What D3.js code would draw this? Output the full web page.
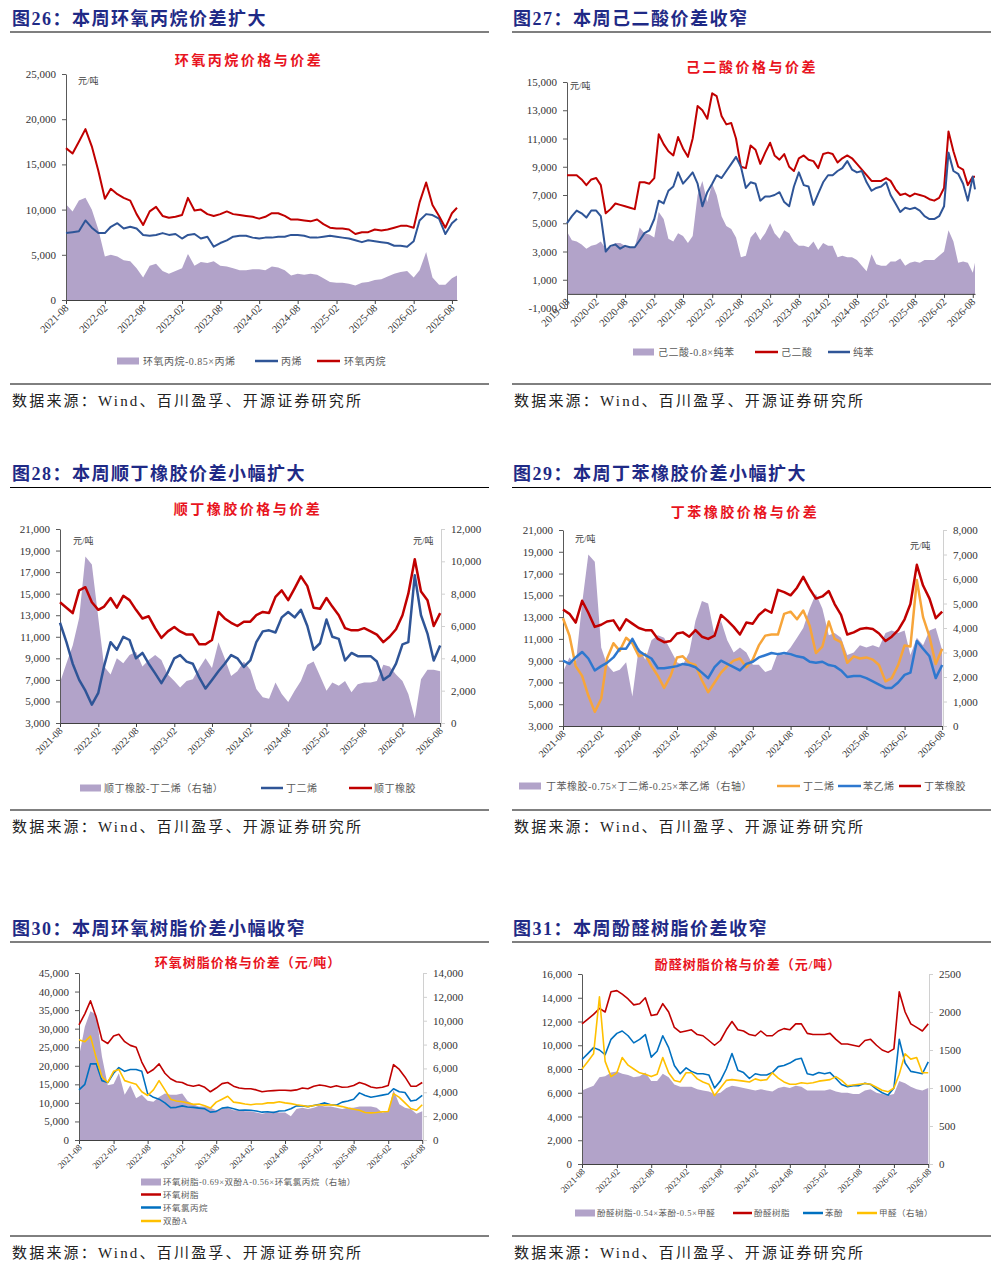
<!DOCTYPE html>
<html>
<head>
<meta charset="utf-8">
<script src="https://cdn.jsdelivr.net/npm/d3@7"></script>
<style>
body { margin: 0; background: #fff; }
text { font-family: "Liberation Serif", "Noto Sans CJK SC", serif; }
.head { font-size: 18px; font-weight: bold; fill: #1f2a86; letter-spacing: 1.5px; }
.src { font-size: 15px; fill: #222; letter-spacing: 2.2px; }
.ctitle { font-weight: bold; fill: #e8141e; text-anchor: middle; }
.unit { font-size: 9px; fill: #404040; }
.leg { fill: #595959; }
.tick text { fill: #333; }
</style>
</head>
<body>
<div id="chart"></div>
<script>
const width = 1000
const height = 1268

// ---------- 图26 环氧丙烷 (2021-08 ~ 2026-08, 月度) ----------
const poSpread = [10600,9800,11000,11300,10000,
  7800,4800,5000,4800,4400,4300,3500,2500,3800,4000,3200,2900,
  3200,3500,5100,3800,4200,4100,4300,3800,3700,3500,3300,3300,
  3400,3400,3300,3700,3600,3300,2700,2900,2800,2900,2800,2400,
  2000,1900,1900,1800,1600,1900,2000,2200,2300,2600,2900,3100,
  3200,2500,3300,5300,2500,1700,1700,2400, 2700]
const propylene = [7400,7500,7600,8800,8000,
  7400,7400,8100,8500,7900,8100,7900,7200,7100,7200,7400,7200,
  7300,6800,7200,7300,6800,7000,5900,6300,6600,7000,7100,7100,
  6900,6800,6900,6900,7000,7000,7200,7200,7100,6900,6900,7000,
  7100,7000,6900,6800,6600,6400,6600,6500,6400,6300,6000,6000,
  5900,6500,8800,9500,9400,9000,7300,8500, 9000]
const propyleneOxide = [16800,16200,17500,18900,17000,
  14300,11200,12300,11700,11300,11000,9500,8300,9800,10300,9300,9100,
  9200,9400,11300,9900,10000,9500,9300,9500,9800,9500,9400,9300,
  9200,9000,9200,9600,9600,9300,8900,8900,8800,8700,8900,8400,
  8000,7900,7900,7800,7300,7500,7500,7800,7700,7800,8000,8200,
  8200,8000,10800,13000,10500,9300,8000,9600, 10200]

// ---------- 图27 己二酸 (2019-08 ~ 2026-08) ----------
const adipicSpread = [4400,3800,3700,3500,3200,
  3400,3500,3700,3200,3300,3600,3600,3400,3300,3300,4700,4300,
  4200,4000,5800,5300,3900,3700,4300,4100,3600,4100,7000,8000,
  6500,7800,7000,5500,4800,4600,4000,2600,2700,4000,4400,3800,
  4300,5000,4300,3900,4500,4300,3700,3400,3400,3300,3700,3100,
  3600,3400,3400,2600,2700,2600,2600,2400,2000,1600,2800,2100,
  2000,2000,2300,2300,2500,2000,2200,2300,2200,2400,2400,2400,
  2700,3000,4500,3700,2200,2300,2200,1500, 2200]
const adipicAcid = [8400,8400,8400,8100,7700,
  8100,8200,7700,5700,6000,6400,6300,6200,6100,6000,7900,7900,
  7800,8200,11300,10600,10100,9800,11100,10300,9700,11000,13300,13000,
  12400,14200,14000,12600,12000,12100,11000,9000,8900,10500,10200,9200,
  10000,10700,9800,9500,9900,9000,8700,9600,9800,9500,9400,8900,
  9900,10000,9900,9300,9600,9800,9600,9200,8800,8400,8000,8000,
  8000,8200,8000,7400,7000,7100,6900,7100,7000,6900,6700,6600,
  6800,7500,11500,10100,9000,8800,7700,8300, 8300]
const benzene = [5000,5500,5900,5700,5400,
  5900,5900,5500,3000,3400,3500,3200,3400,3300,3300,3800,4300,
  4500,5300,6600,6400,7300,7600,8600,7800,8200,8600,7800,6200,
  7200,7800,8400,8200,8700,9200,9700,9000,7500,7900,7800,6600,
  6900,6900,7000,7200,6500,6200,7600,8600,7700,7600,6300,7100,
  7900,8400,8400,8700,8900,9400,8800,8600,8700,7900,7300,7500,
  7600,7900,7000,6400,5800,6100,6000,6100,5900,5500,5300,5300,
  5500,6200,10000,8700,8500,7800,6600,8300, 7400]

// ---------- 图28 顺丁橡胶 (2021-08 ~ 2026-08) ----------
const brSpread = [2500,3700,4800,6500,10300,
  9800,6500,3500,3000,4000,3700,4200,4400,3500,3900,4200,3900,
  3000,2600,2200,2600,2700,3400,4000,3400,5000,4000,2900,3200,
  3800,3300,2100,1600,1500,2500,1800,1300,2000,2600,3600,3800,
  2900,2000,2500,2300,2600,1900,2400,2500,2500,2600,3600,3500,
  3000,2600,1800,300,2700,3300,3300,3200]
const butadiene28 = [12300,10500,8500,7000,6000,
  4700,5800,8300,10500,9800,11000,10700,9000,9500,8500,7600,6700,
  7700,9000,9300,8700,8500,7200,6200,7000,7800,8500,9300,9000,
  8200,8800,10500,11500,11600,11400,12800,13300,12800,13500,12000,9800,
  10400,12600,11000,10800,8800,9500,9200,9200,9200,8700,7000,7400,
  8500,10300,10500,16700,13000,11300,8800,10200]
const butadieneRubber = [14200,13700,13200,15300,15600,
  14200,13500,13800,14600,13700,14800,14400,13500,12700,12900,11800,10900,
  11500,11900,11500,11200,11200,10300,10300,10700,13300,12700,12300,12000,
  12400,12400,13000,13300,13200,14700,15300,14400,15500,16600,15700,13700,
  13600,14600,13800,13000,11800,11600,11600,11800,11500,11200,10500,11000,
  11700,13000,15000,18200,15200,14400,12000,13200]

// ---------- 图29 丁苯橡胶 (2021-08 ~ 2026-08) ----------
const sbrSpread = [2200,2800,2500,5000,7000,
  6700,3200,2500,2200,2300,2600,1200,3200,2700,3500,3700,3600,
  3100,2600,2500,3000,4300,5100,5000,3700,4300,3500,3000,3200,
  3000,2500,2500,2200,2300,3000,2900,3200,3600,4000,4800,5400,
  4800,3700,3800,3600,2900,3000,3300,3200,3300,3200,3800,3900,
  3800,3900,2900,3600,3300,3900,4000,3100]
const butadiene29 = [12900,11300,8500,7600,5800,
  4300,5500,9200,10600,9900,11100,10600,9400,9600,8500,7600,6500,
  7600,9300,9400,8800,8600,7200,6100,7000,7900,8500,9000,9200,
  8400,9100,10400,11300,11400,11400,13300,13500,12800,13600,12200,9700,
  10300,12600,11000,10700,8800,9400,9200,9300,9100,8600,7100,7400,
  8600,10400,10300,16400,13000,11200,8700,10100]
const styrene = [9000,8700,9300,9800,9200,
  8100,8500,8800,9300,10100,10100,11000,9900,9500,9200,8300,8300,
  8400,8500,8700,8600,8400,7900,7400,8400,9000,8700,8400,8100,
  8700,8900,9300,9500,9700,9600,9700,9600,9400,9300,8900,8800,
  8900,8600,8500,8100,7500,7600,7600,7400,7100,6800,6500,6500,
  7000,7700,7900,10800,10100,9400,7400,8600]
const sbr = [13700,13300,12500,14500,13400,
  12100,12300,12600,12700,11800,12800,12400,12000,11800,11800,11000,10700,
  10800,11500,11600,11200,11800,11200,11000,11300,13200,12700,12100,11400,
  12500,12400,13200,13700,13400,15500,15300,15000,15700,16700,15600,14700,
  14900,15400,14200,13200,11400,11600,11900,12000,11900,11500,10800,11200,
  11800,12800,14200,17800,15900,14700,12900,13500]

// ---------- 图30 环氧树脂 (2021-08 ~ 2026-08) ----------
const epoxySpread = [7000,9500,10800,10500,7000,
  4600,4700,5600,3800,4600,3500,3800,3300,3200,3600,3900,3800,
  3800,3900,3300,3000,2800,2800,2700,2500,2600,2700,2500,2500,
  2400,2400,2300,2200,2300,2400,2300,2300,2000,2600,2700,2600,
  2700,2900,2800,2800,2700,2600,2700,2700,2800,2800,2800,2700,
  2300,2400,4200,3000,2700,2600,2200,2400]
const epoxyResin = [31000,34000,37500,33000,27000,
  26000,28000,28500,26500,25500,25000,21000,18000,19000,20500,18000,16500,
  15700,15500,14800,14500,14800,14200,13000,14000,15200,15500,14500,14000,
  13800,13800,13500,13000,13200,13300,13400,13400,13300,13500,14000,13800,
  14500,14800,14600,14200,14600,14200,14300,14700,15500,15000,14300,14000,
  14200,14700,20300,19000,17000,14500,14500,15500]
const epichlorohydrin = [13500,15000,20500,20500,16000,
  15500,18000,19500,18500,19000,19000,18500,12500,11500,11000,10000,8700,
  8800,9200,8900,8800,8600,8400,7500,7700,8600,8800,8400,8000,
  8100,8000,7800,7500,7600,7400,7800,7900,8400,9200,9200,9000,
  9300,9600,10000,9500,9400,10200,10500,11000,12700,12000,11500,11800,
  12100,12400,13800,13000,12800,10500,10800,12000]
const bisphenolA = [27000,26500,28000,22000,17000,
  15500,18500,19000,16000,15500,15000,13000,12000,13500,16000,13500,11000,
  10500,10300,10000,9600,9700,9200,8600,10200,11000,11800,10200,10000,
  9700,9500,9700,9700,10000,10000,10300,10000,9800,9500,9300,9000,
  9300,9500,9400,9500,9300,9000,8600,8300,8000,7400,7300,7400,
  7600,7700,12500,11500,10000,8500,8000,9500]

// ---------- 图31 酚醛树脂 (2021-08 ~ 2026-08) ----------
const pfSpread = [6200,6400,6600,7300,7400,
  7700,7800,7600,7500,7300,7400,7700,7000,7000,7600,7300,6700,
  6500,6500,6500,6300,6200,6100,5900,6000,6400,6600,6500,6400,
  6300,6200,6300,6200,6100,6400,6500,6400,6600,6500,6200,6200,
  6200,6200,6300,6100,6000,6000,5900,5900,6200,6300,6000,5900,
  5800,5900,7000,6800,6500,6300,6200,6400]
const phenolicResin = [11800,12200,12600,13100,12800,
  14500,14600,14300,13900,13400,13500,14000,12500,12600,13500,12800,11500,
  11100,11200,11300,10900,10800,10400,10000,10400,11300,12000,11300,11200,
  10900,10800,11200,10800,10800,11200,11400,11300,11800,11800,11000,10900,
  10900,10900,11000,10500,10100,10100,10000,9900,10400,10500,10000,9600,
  9400,9700,14500,12800,11800,11500,11200,11800]
const phenol = [8800,9300,9800,9600,9200,
  10500,11000,11200,10800,10200,10500,10900,9000,9500,10800,9800,8300,
  7600,8100,7800,7600,7600,7500,6400,7000,8000,9300,7900,7700,
  7200,7600,7500,7500,7700,8200,8300,8500,8800,8900,7600,7500,
  7700,7600,7700,7200,6700,6500,6600,6600,6800,6700,6300,6000,
  5800,6400,10500,8500,7800,7700,7600,8600]
const formaldehyde = [1250,1350,1450,2200,1350,
  1150,1200,1400,1300,1250,1200,1180,1150,1180,1400,1200,1100,
  1080,1200,1200,1120,1080,1050,900,1000,1100,1110,1100,1090,
  1080,1120,1100,1110,1200,1130,1080,1050,1050,1070,1060,1070,
  1090,1100,1110,1150,1100,1030,1040,1050,1060,1050,1010,970,
  950,1000,1180,1450,1380,1400,1200,1200]

const C = {
    purple: "#b2a3c9",
    red: "#c00000",
    navyBlue: "#2f5597",
    blue: "#0070c0",
    blue29: "#2e78cf",
    orange: "#f7a53a",
    yellow: "#ffc000"
}

const svg = d3.select("div#chart")
    .append("svg")
    .attr("width", width)
    .attr("height", height)

// 月度日期，最后一个点可以落在月中
function monthDates(start, n, last) {
    const d = d3.range(n).map(i => new Date(start[0], start[1] - 1 + i, 1))
    if (last) d[n - 1] = last
    return d
}

const halfYears = (y, m, n) => d3.range(n).map(i => new Date(y, m - 1 + 6 * i, 1))
const commaFmt = d => d3.format(",")(d).replace("−", "-")

const panels = [
    {
        head: ["图26：本周环氧丙烷价差扩大", 12, 25], rule: [10, 489, 32], src: [384, 406],
        title: ["环氧丙烷价格与价差", 249, 65, 14, 2.5],
        xDomain: [new Date(2021, 7, 1), new Date(2026, 7, 25)], xRange: [66, 457],
        start: [2021, 8], last: new Date(2026, 7, 25), xTicks: halfYears(2021, 8, 11), xFont: 10.5,
        yL: [0, 25000], yLTicks: d3.range(0, 25001, 5000), yRange: [300, 74], xAxisAt: 0,
        units: [[78, 84]],
        series: [
            { type: "area", values: poSpread, axis: "L" },
            { type: "line", values: propylene, axis: "L", color: C.navyBlue, w: 2 },
            { type: "line", values: propyleneOxide, axis: "L", color: C.red, w: 2 }
        ],
        legendSize: 10,
        legend: [
            { kind: "rect", x1: 117, x2: 139, y: 361, color: C.purple, label: "环氧丙烷-0.85×丙烯", tx: 143 },
            { kind: "line", x1: 255, x2: 278, y: 361, color: C.navyBlue, label: "丙烯", tx: 281 },
            { kind: "line", x1: 317, x2: 340, y: 361, color: C.red, label: "环氧丙烷", tx: 344 }
        ]
    },
    {
        head: ["图27：本周己二酸价差收窄", 513, 25], rule: [512, 991, 32], src: [384, 406],
        title: ["己二酸价格与价差", 752, 72, 14, 2.5],
        xDomain: [new Date(2019, 7, 1), new Date(2026, 7, 15)], xRange: [567, 975],
        start: [2019, 8], last: new Date(2026, 7, 15), xTicks: halfYears(2019, 8, 15), xFont: 10.5,
        yL: [-1000, 15000], yLTicks: d3.range(-1000, 15001, 2000), yRange: [308, 82], xAxisAt: 0,
        units: [[570, 89]],
        series: [
            { type: "area", values: adipicSpread, axis: "L" },
            { type: "line", values: adipicAcid, axis: "L", color: C.red, w: 2 },
            { type: "line", values: benzene, axis: "L", color: C.navyBlue, w: 2 }
        ],
        legendSize: 10,
        legend: [
            { kind: "rect", x1: 633, x2: 654, y: 352, color: C.purple, label: "己二酸-0.8×纯苯", tx: 658 },
            { kind: "line", x1: 755, x2: 778, y: 352, color: C.red, label: "己二酸", tx: 781 },
            { kind: "line", x1: 828, x2: 850, y: 352, color: C.navyBlue, label: "纯苯", tx: 853 }
        ]
    },
    {
        head: ["图28：本周顺丁橡胶价差小幅扩大", 12, 480], rule: [10, 489, 487.5], src: [810, 832],
        title: ["顺丁橡胶价格与价差", 248, 514, 14, 2.5],
        xDomain: [new Date(2021, 7, 1), new Date(2026, 7, 5)], xRange: [60, 441],
        start: [2021, 8], xTicks: halfYears(2021, 8, 11), xFont: 10,
        yL: [3000, 21000], yLTicks: d3.range(3000, 21001, 2000), yRange: [723, 529], xAxisAt: 3000,
        yR: [0, 12000], yRTicks: d3.range(0, 12001, 2000), yRFmt: commaFmt,
        units: [[73, 544], [413, 544]],
        series: [
            { type: "area", values: brSpread, axis: "R" },
            { type: "line", values: butadiene28, axis: "L", color: C.navyBlue, w: 2.5 },
            { type: "line", values: butadieneRubber, axis: "L", color: C.red, w: 2.5 }
        ],
        legendSize: 10,
        legend: [
            { kind: "rect", x1: 80, x2: 101, y: 788, color: C.purple, label: "顺丁橡胶-丁二烯（右轴）", tx: 104 },
            { kind: "line", x1: 261, x2: 283, y: 788, color: C.navyBlue, label: "丁二烯", tx: 286 },
            { kind: "line", x1: 349, x2: 372, y: 788, color: C.red, label: "顺丁橡胶", tx: 374 }
        ]
    },
    {
        head: ["图29：本周丁苯橡胶价差小幅扩大", 513, 480], rule: [512, 991, 487.5], src: [810, 832],
        title: ["丁苯橡胶价格与价差", 745, 517, 14, 2.5],
        xDomain: [new Date(2021, 7, 1), new Date(2026, 7, 5)], xRange: [563, 943],
        start: [2021, 8], xTicks: halfYears(2021, 8, 11), xFont: 10,
        yL: [3000, 21000], yLTicks: d3.range(3000, 21001, 2000), yRange: [726, 530], xAxisAt: 3000,
        yR: [0, 8000], yRTicks: d3.range(0, 8001, 1000), yRFmt: commaFmt,
        units: [[575, 542], [910, 549]],
        series: [
            { type: "area", values: sbrSpread, axis: "R" },
            { type: "line", values: butadiene29, axis: "L", color: C.orange, w: 2.5 },
            { type: "line", values: styrene, axis: "L", color: C.blue29, w: 2.5 },
            { type: "line", values: sbr, axis: "L", color: C.red, w: 2.5 }
        ],
        legendSize: 10,
        legend: [
            { kind: "rect", x1: 519, x2: 541, y: 786, color: C.purple, label: "丁苯橡胶-0.75×丁二烯-0.25×苯乙烯（右轴）", tx: 546 },
            { kind: "line", x1: 777, x2: 800, y: 786, color: C.orange, label: "丁二烯", tx: 803 },
            { kind: "line", x1: 838, x2: 861, y: 786, color: C.blue29, label: "苯乙烯", tx: 863 },
            { kind: "line", x1: 899, x2: 921, y: 786, color: C.red, label: "丁苯橡胶", tx: 924 }
        ]
    },
    {
        head: ["图30：本周环氧树脂价差小幅收窄", 12, 935], rule: [10, 489, 942], src: [1236, 1258],
        title: ["环氧树脂价格与价差（元/吨）", 248, 967, 13, 1],
        xDomain: [new Date(2021, 7, 1), new Date(2026, 7, 5)], xRange: [79, 423],
        start: [2021, 8], xTicks: halfYears(2021, 8, 11), xFont: 9,
        yL: [0, 45000], yLTicks: d3.range(0, 45001, 5000), yRange: [1140, 973], xAxisAt: 0,
        yR: [0, 14000], yRTicks: d3.range(0, 14001, 2000), yRFmt: commaFmt,
        units: [],
        series: [
            { type: "area", values: epoxySpread, axis: "R" },
            { type: "line", values: epoxyResin, axis: "L", color: C.red, w: 1.6 },
            { type: "line", values: epichlorohydrin, axis: "L", color: C.blue, w: 1.6 },
            { type: "line", values: bisphenolA, axis: "L", color: C.yellow, w: 1.6 }
        ],
        legendSize: 8.5,
        legend: [
            { kind: "rect", x1: 141, x2: 161, y: 1182, color: C.purple, label: "环氧树脂-0.69×双酚A-0.56×环氧氯丙烷（右轴）", tx: 163 },
            { kind: "line", x1: 141, x2: 161, y: 1194.5, color: C.red, label: "环氧树脂", tx: 163 },
            { kind: "line", x1: 141, x2: 161, y: 1207.5, color: C.blue, label: "环氧氯丙烷", tx: 163 },
            { kind: "line", x1: 141, x2: 161, y: 1221, color: C.yellow, label: "双酚A", tx: 163 }
        ]
    },
    {
        head: ["图31：本周酚醛树脂价差收窄", 513, 935], rule: [512, 991, 942], src: [1236, 1258],
        title: ["酚醛树脂价格与价差（元/吨）", 748, 969, 13, 1],
        xDomain: [new Date(2021, 7, 1), new Date(2026, 7, 5)], xRange: [582, 929],
        start: [2021, 8], xTicks: halfYears(2021, 8, 11), xFont: 9,
        yL: [0, 16000], yLTicks: d3.range(0, 16001, 2000), yRange: [1164, 974], xAxisAt: 0,
        yR: [0, 2500], yRTicks: d3.range(0, 2501, 500), yRFmt: d3.format("d"),
        units: [],
        series: [
            { type: "area", values: pfSpread, axis: "L" },
            { type: "line", values: phenolicResin, axis: "L", color: C.red, w: 1.6 },
            { type: "line", values: phenol, axis: "L", color: C.blue, w: 1.6 },
            { type: "line", values: formaldehyde, axis: "R", color: C.yellow, w: 1.6 }
        ],
        legendSize: 8.5,
        legend: [
            { kind: "rect", x1: 575, x2: 595, y: 1213, color: C.purple, label: "酚醛树脂-0.54×苯酚-0.5×甲醛", tx: 597 },
            { kind: "line", x1: 733, x2: 752, y: 1213, color: C.red, label: "酚醛树脂", tx: 754 },
            { kind: "line", x1: 803, x2: 823, y: 1213, color: C.blue, label: "苯酚", tx: 825 },
            { kind: "line", x1: 857, x2: 877, y: 1213, color: C.yellow, label: "甲醛（右轴）", tx: 879 }
        ]
    }
]

panels.forEach(drawPanel)

function drawPanel(p) {
    const g = svg.append("g")

    // 图号标题 + 上下横线 + 数据来源
    g.append("text").attr("class", "head").attr("x", p.head[1]).attr("y", p.head[2]).text(p.head[0])
    g.append("line").attr("x1", p.rule[0]).attr("x2", p.rule[1]).attr("y1", p.rule[2]).attr("y2", p.rule[2])
        .attr("stroke", "#000").attr("stroke-width", 1.2)
    g.append("line").attr("x1", p.rule[0]).attr("x2", p.rule[1]).attr("y1", p.src[0]).attr("y2", p.src[0])
        .attr("stroke", "#000").attr("stroke-width", 1)
    g.append("text").attr("class", "src").attr("x", p.rule[0] + 2).attr("y", p.src[1])
        .text("数据来源：Wind、百川盈孚、开源证券研究所")

    // 图表标题
    g.append("text").attr("class", "ctitle")
        .attr("x", p.title[1]).attr("y", p.title[2])
        .style("font-size", p.title[3] + "px").style("letter-spacing", p.title[4] + "px")
        .text(p.title[0])

    const x = d3.scaleTime().domain(p.xDomain).range(p.xRange)
    const yL = d3.scaleLinear().domain(p.yL).range(p.yRange)
    const yR = p.yR ? d3.scaleLinear().domain(p.yR).range(p.yRange) : null
    const dates = monthDates(p.start, p.series[0].values.length, p.last)

    // 面积先画
    p.series.filter(s => s.type === "area").forEach(s => {
        const y = s.axis === "R" ? yR : yL
        g.append("path")
            .datum(s.values.map((v, i) => [dates[i], v]))
            .attr("fill", C.purple)
            .attr("d", d3.area().x(d => x(d[0])).y0(y(0)).y1(d => y(d[1])))
    })

    // 坐标轴
    const xAxis = g.append("g")
        .attr("transform", `translate(0,${yL(p.xAxisAt)})`)
        .call(d3.axisBottom(x).tickValues(p.xTicks).tickFormat(d3.timeFormat("%Y-%m")).tickSize(4).tickSizeOuter(0))
    xAxis.select(".domain").attr("stroke", "#404040")
    xAxis.selectAll(".tick line").attr("stroke", "#404040")
    xAxis.selectAll("text")
        .style("font-size", p.xFont + "px")
        .style("text-anchor", "end")
        .attr("dx", "-0.4em")
        .attr("dy", "0.1em")
        .attr("transform", "rotate(-45)")

    const left = g.append("g")
        .attr("transform", `translate(${p.xRange[0]},0)`)
        .call(d3.axisLeft(yL).tickValues(p.yLTicks).tickFormat(commaFmt).tickSize(4).tickPadding(6).tickSizeOuter(0))
    left.select(".domain").attr("stroke", "#595959")
    left.selectAll(".tick line").attr("stroke", "#595959")
    left.selectAll("text").style("font-size", "11px")

    if (yR) {
        const right = g.append("g")
            .attr("transform", `translate(${p.xRange[1]},0)`)
            .call(d3.axisRight(yR).tickValues(p.yRTicks).tickFormat(p.yRFmt).tickSize(4).tickPadding(6).tickSizeOuter(0))
        right.select(".domain").attr("stroke", "#d0d0d0")
        right.selectAll(".tick line").attr("stroke", "#d0d0d0")
        right.selectAll("text").style("font-size", "11px")
    }

    // 折线
    p.series.filter(s => s.type === "line").forEach(s => {
        const y = s.axis === "R" ? yR : yL
        g.append("path")
            .datum(s.values.map((v, i) => [dates[i], v]))
            .attr("fill", "none")
            .attr("stroke", s.color)
            .attr("stroke-width", s.w)
            .attr("stroke-linejoin", "round")
            .attr("d", d3.line().x(d => x(d[0])).y(d => y(d[1])))
    })

    // 单位
    p.units.forEach(u => g.append("text").attr("class", "unit").attr("x", u[0]).attr("y", u[1]).text("元/吨"))

    // 图例
    p.legend.forEach(it => {
        if (it.kind === "rect") {
            g.append("rect").attr("x", it.x1).attr("y", it.y - 3.5)
                .attr("width", it.x2 - it.x1).attr("height", 7).attr("fill", it.color)
        } else {
            g.append("line").attr("x1", it.x1).attr("x2", it.x2).attr("y1", it.y).attr("y2", it.y)
                .attr("stroke", it.color).attr("stroke-width", 2.5)
        }
        g.append("text").attr("class", "leg")
            .attr("x", it.tx).attr("y", it.y + p.legendSize * 0.36)
            .style("font-size", p.legendSize + "px")
            .style("letter-spacing", "0.5px")
            .text(it.label)
    })
}
</script>
</body>
</html>
